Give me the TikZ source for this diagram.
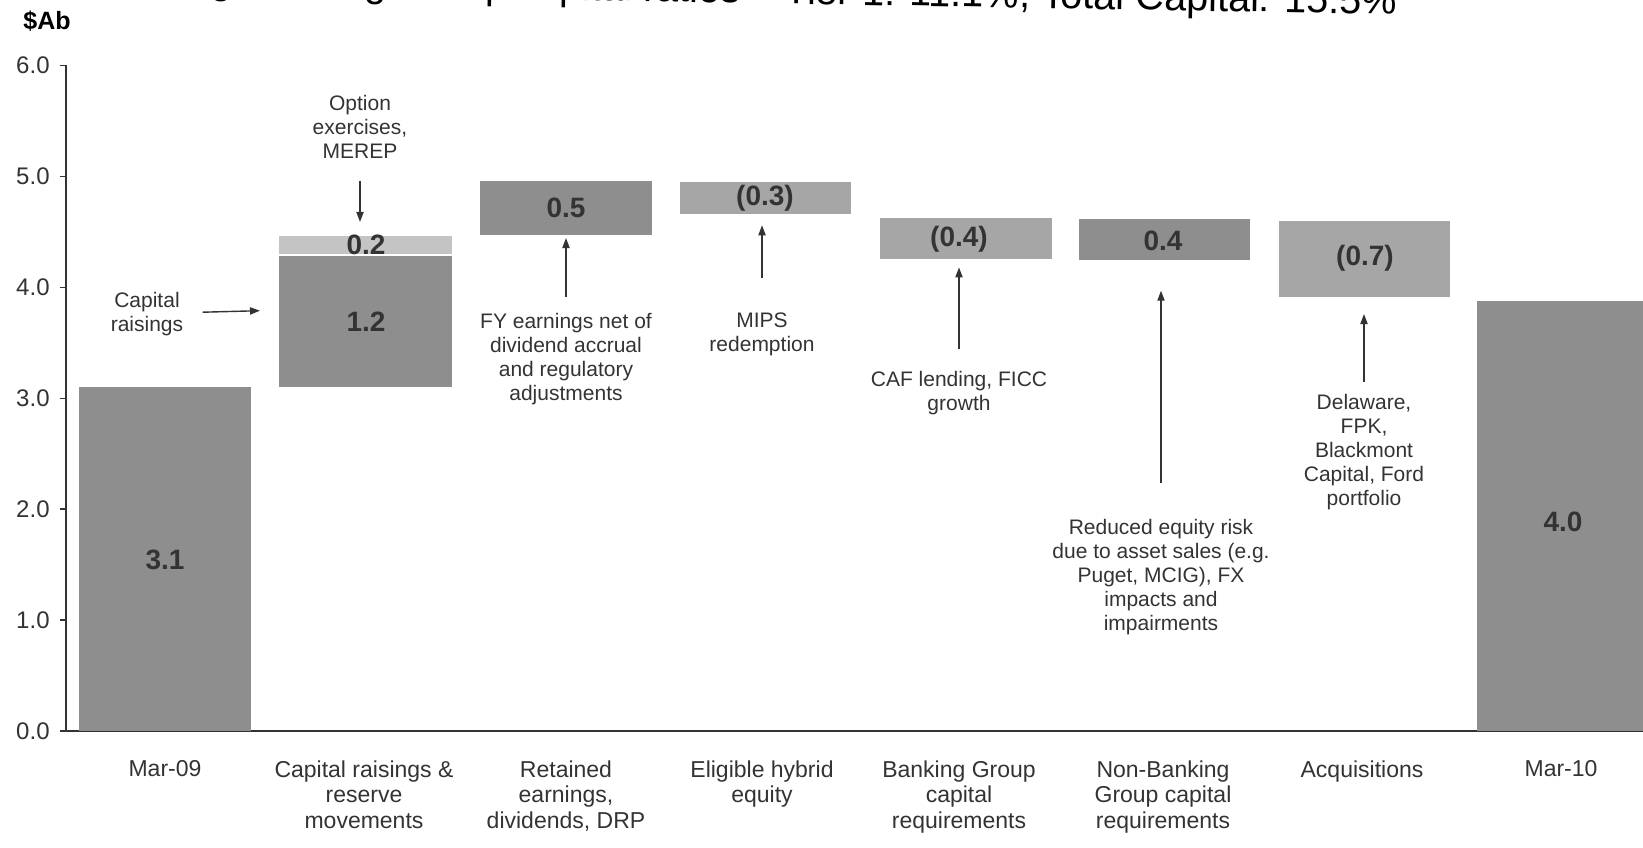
\documentclass[tikz,border=0pt]{standalone}
\usepackage{fontspec}
\setmainfont{Liberation Sans}
\usetikzlibrary{arrows.meta}
\definecolor{darkbar}{HTML}{8E8E8E}
\definecolor{lightbar}{HTML}{A6A6A6}
\definecolor{palebar}{HTML}{C4C4C4}
\definecolor{inkgray}{HTML}{333333}

\begin{document}
\begin{tikzpicture}[x=0.5pt, y=0.5pt,
        note/.style={anchor=north, align=center, inner sep=0, text=inkgray, font=\fontsize{10.5}{12}\selectfont},
        cat/.style={anchor=north, align=center, inner sep=0, text=inkgray, font=\fontsize{11.5}{12.8}\selectfont},
        val/.style={inner sep=0, text=inkgray, font=\fontsize{14}{16}\selectfont\bfseries},
        pointer/.style={draw=inkgray, line width=0.7pt, -{Triangle[length=5pt, width=3.6pt]}}]
    \useasboundingbox (0,0) rectangle (1643,847);
    % title, cut by the top edge
    \node[anchor=base west, inner sep=0, rotate=-1.0, font=\fontsize{19.8}{23}\selectfont] (title) at (115,855)
        {Strong Banking Group capital ratios -- Tier 1: 11.1\%, Total Capital: 15.5\%};
    \node[anchor=base west, inner sep=0, font=\fontsize{12.5}{14}\selectfont\bfseries] (unit) at (23,817) {\$Ab};
    \begin{scope}[shift={(0,116)}, y=55.45pt]
        % axes
        \draw[inkgray, line width=0.75pt] (60,6) -- (66,6) -- (66,0) -- (1643,0);
        \foreach \v in {0,...,5}
            \draw[inkgray, line width=0.75pt] (60,\v) -- (66,\v);
        \foreach \v in {0,...,6}
            \node[anchor=east, inner sep=0, text=inkgray, font=\fontsize{12}{14}\selectfont] (tick\v) at (50,\v) {\v.0};
        % bars
        \fill[darkbar] (79,0) rectangle (251,3.1);
        \fill[darkbar] (279,3.1) rectangle (452,4.29);
        \fill[palebar] (279,4.29) rectangle (452,4.46);
        \draw[white, line width=1pt] (279,4.29) -- (452,4.29);
        \fill[darkbar] (480,4.47) rectangle (652,4.96);
        \fill[lightbar] (680,4.66) rectangle (851,4.95);
        \fill[lightbar] (880,4.26) rectangle (1052,4.63);
        \fill[darkbar] (1079,4.25) rectangle (1250,4.62);
        \fill[lightbar] (1279,3.91) rectangle (1450,4.60);
        \fill[darkbar] (1477,0) rectangle (1649,3.88);
        % values
        \node[val] (v31) at (165,1.54) {3.1};
        \node[val] (v12) at (366,3.69) {1.2};
        \node[val] (v02) at (366,4.38) {0.2};
        \node[val] (v05) at (566,4.72) {0.5};
        \node[val] (v03) at (765,4.80) {(0.3)};
        \node[val] (v04a) at (959,4.43) {(0.4)};
        \node[val] (v04b) at (1163,4.42) {0.4};
        \node[val] (v07) at (1365,4.26) {(0.7)};
        \node[val] (v40) at (1563,1.89) {4.0};
        % arrow heads
        \coordinate (opttip) at (360,4.59);
        \coordinate (caprtip) at (260,3.79);
        \coordinate (fytip) at (566,4.445);
        \coordinate (mipstip) at (762,4.56);
        \coordinate (caftip) at (959,4.18);
        \coordinate (redtip) at (1161,3.97);
        \coordinate (delatip) at (1364,3.76);
    \end{scope}
    % notes
    \node[note] (opt) at (360,752.5) {Option\\exercises,\\MEREP};
    \node[note] (capr) at (147,555.5) {Capital\\raisings};
    \node[note] (fy) at (566,534.5) {FY earnings net of\\dividend accrual\\and regulatory\\adjustments};
    \node[note] (mips) at (762,534.5) {MIPS\\redemption};
    \node[note] (caf) at (959,476.5) {CAF lending, FICC\\growth};
    \node[note] (red) at (1161,328.5) {Reduced equity risk\\due to asset sales (e.g.\\Puget, MCIG), FX\\impacts and\\impairments};
    \node[note] (dela) at (1364,453.5) {Delaware,\\FPK,\\Blackmont\\Capital, Ford\\portfolio};
    \draw[pointer, shorten <=11pt] (opt) -- (opttip);
    \draw[pointer, shorten <=9.5pt] (capr) -- (caprtip);
    \draw[pointer, shorten <=7.75pt] (fy) -- (fytip);
    \draw[pointer, shorten <=17pt] (mips) -- (mipstip);
    \draw[pointer, shorten <=10.75pt] (caf) -- (caftip);
    \draw[pointer, shorten <=18pt] (red) -- (redtip);
    \draw[pointer, shorten <=5.75pt] (dela) -- (delatip);
    % categories
    \node[cat] (cmar09) at (165,87) {Mar-09};
    \node[cat] (ccap) at (364,87) {Capital raisings \&\\reserve\\movements};
    \node[cat] (cret) at (566,87) {Retained\\earnings,\\dividends, DRP};
    \node[cat] (chyb) at (762,87) {Eligible hybrid\\equity};
    \node[cat] (cbank) at (959,87) {Banking Group\\capital\\requirements};
    \node[cat] (cnon) at (1163,87) {Non-Banking\\Group capital\\requirements};
    \node[cat] (cacq) at (1362,87) {Acquisitions};
    \node[cat] (cmar10) at (1561,87) {Mar-10};
\end{tikzpicture}
\end{document}
